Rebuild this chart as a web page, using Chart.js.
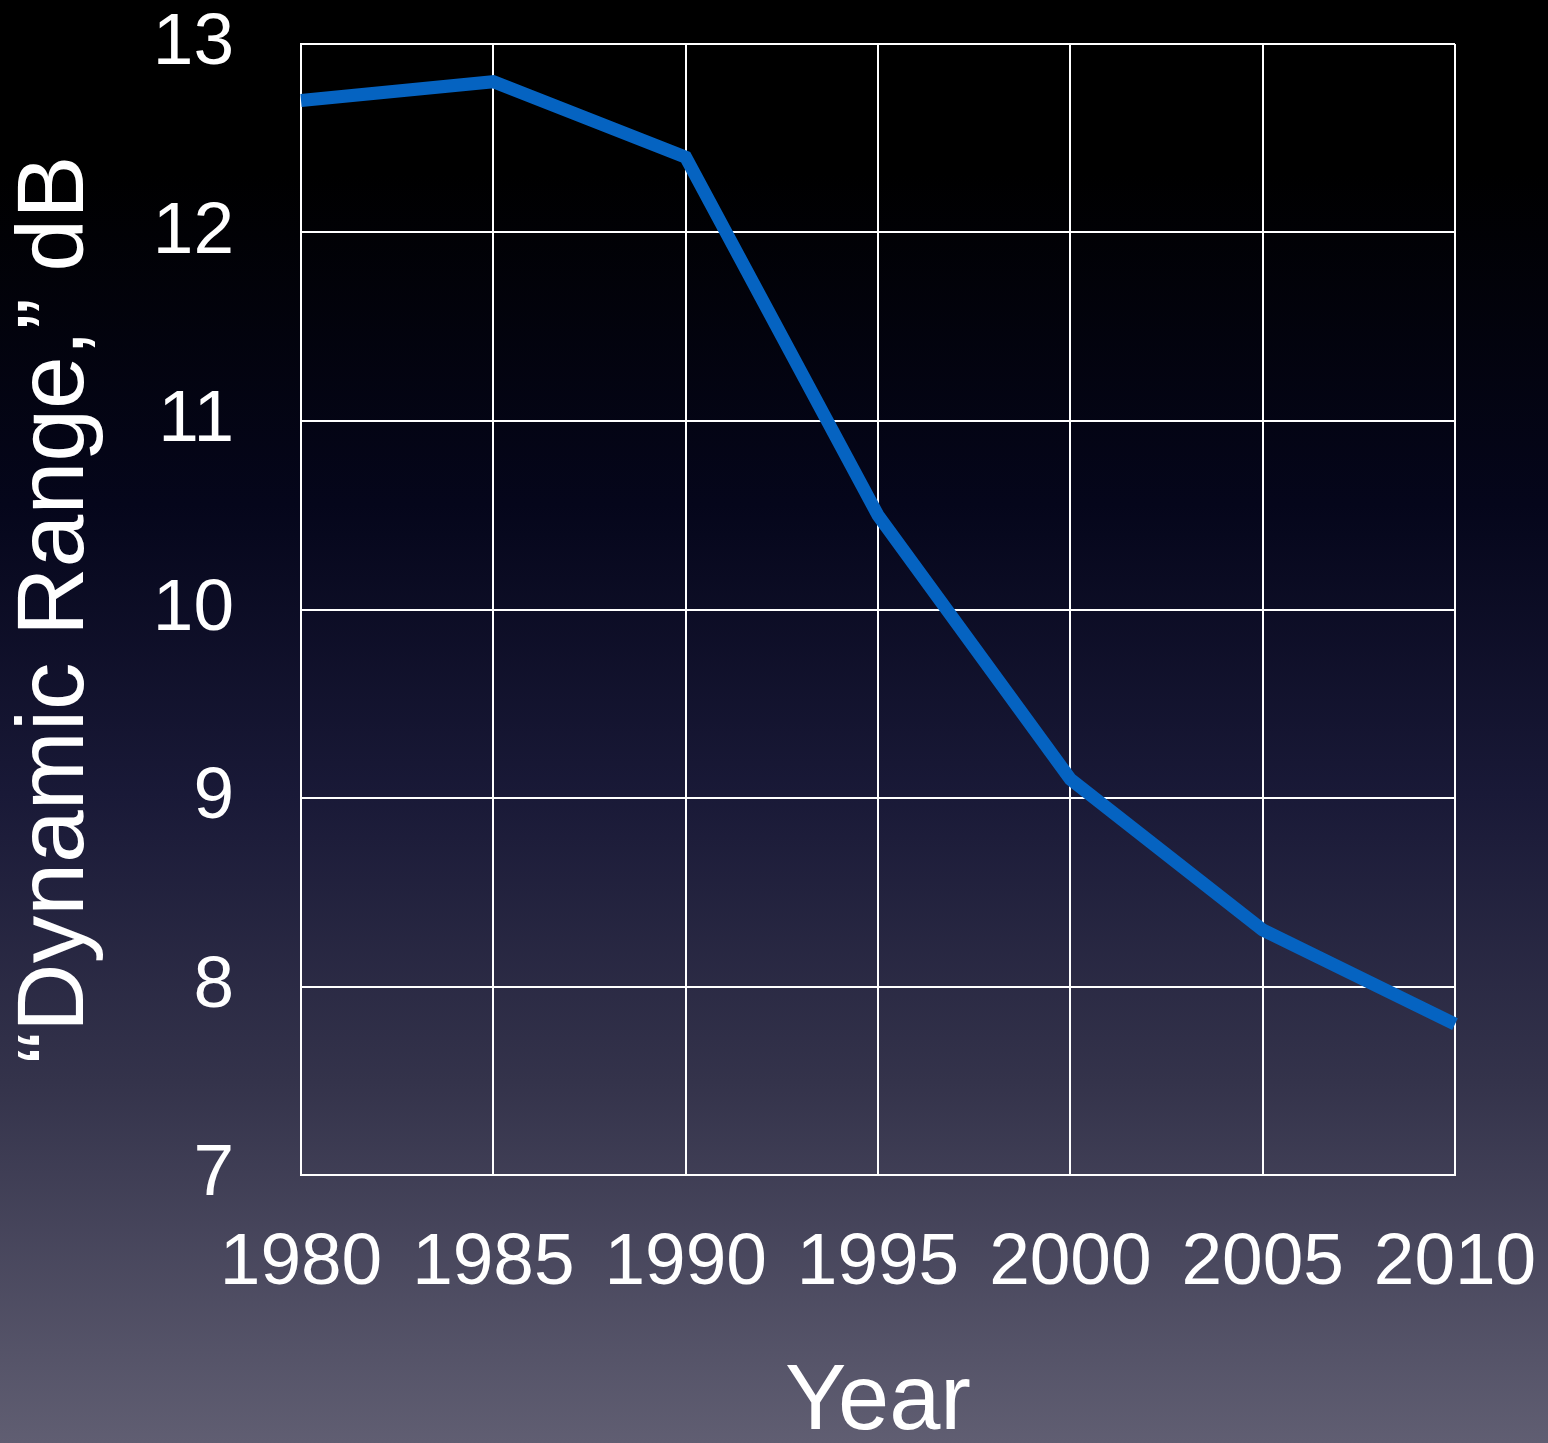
<!DOCTYPE html>
<html>
<head>
<meta charset="utf-8">
<script src="https://cdn.jsdelivr.net/npm/chart.js@4/dist/chart.umd.min.js"></script>
<style>
  html, body {
    margin: 0;
    padding: 0;
  }
  body {
    width: 1548px;
    height: 1443px;
    overflow: hidden;
    background: linear-gradient(to bottom, #000000 0%, #000000 12%, #05061b 35%, #191937 55%, #34334b 75%, #605e72 100%);
  }
  #wrap {
    position: relative;
    width: 1548px;
    height: 1443px;
  }
</style>
</head>
<body>
<div id="wrap"><canvas id="chart"></canvas></div>
<script>
// values
var years = ['1980', '1985', '1990', '1995', '2000', '2005', '2010'];
var dynamicRange = [12.7, 12.8, 12.4, 10.5, 9.1, 8.3, 7.8];
var yMin = 7;
var yMax = 13;

var fontFamily = '"Liberation Sans", Arial, Helvetica, sans-serif';

var config = {
    type: 'line',
    data: {
        labels: years,
        datasets: [{
            label: 'Dynamic Range',
            data: dynamicRange,
            borderColor: '#0563c1',
            borderWidth: 13,
            borderCapStyle: 'butt',
            borderJoinStyle: 'miter',
            pointRadius: 0,
            tension: 0,
            fill: false
        }]
    },
    options: {
        responsive: true,
        maintainAspectRatio: false,
        animation: false,
        layout: {
            padding: { top: 44, right: 93, bottom: 0, left: 0 }
        },
        plugins: {
            legend: { display: false },
            tooltip: { enabled: false }
        },
        scales: {
            x: {
                offset: false,
                grid: {
                    color: '#ffffff',
                    lineWidth: 2,
                    drawTicks: false
                },
                border: { color: '#ffffff', width: 2 },
                ticks: {
                    color: '#ffffff',
                    padding: 45,
                    maxRotation: 0,
                    autoSkip: false,
                    font: { family: fontFamily, size: 73 }
                },
                title: {
                    display: true,
                    text: 'Year',
                    color: '#ffffff',
                    padding: { top: 0, bottom: 3 },
                    font: { family: fontFamily, size: 92, lineHeight: 0.8 }
                },
                // labels hang past the plot edges, keep them from shrinking it
                afterFit: function (scale) {
                    scale.paddingLeft = 0;
                    scale.paddingRight = 0;
                    scale.height = 268;
                }
            },
            y: {
                min: yMin,
                max: yMax,
                grid: {
                    color: '#ffffff',
                    lineWidth: 2,
                    drawTicks: false
                },
                border: { color: '#ffffff', width: 2 },
                ticks: {
                    stepSize: 1,
                    color: '#ffffff',
                    padding: 67,
                    font: { family: fontFamily, size: 73 }
                },
                title: {
                    display: true,
                    text: '\u201cDynamic Range,\u201d dB',
                    color: '#ffffff',
                    padding: { top: 0, bottom: 0 },
                    font: { family: fontFamily, size: 95, lineHeight: 1.2 }
                },
                afterFit: function (scale) {
                    scale.paddingTop = 0;
                    scale.paddingBottom = 0;
                    scale.width = 301;
                }
            }
        }
    }
};

var ctx = document.getElementById('chart').getContext('2d');
var chart = new Chart(ctx, config);
</script>
</body>
</html>
